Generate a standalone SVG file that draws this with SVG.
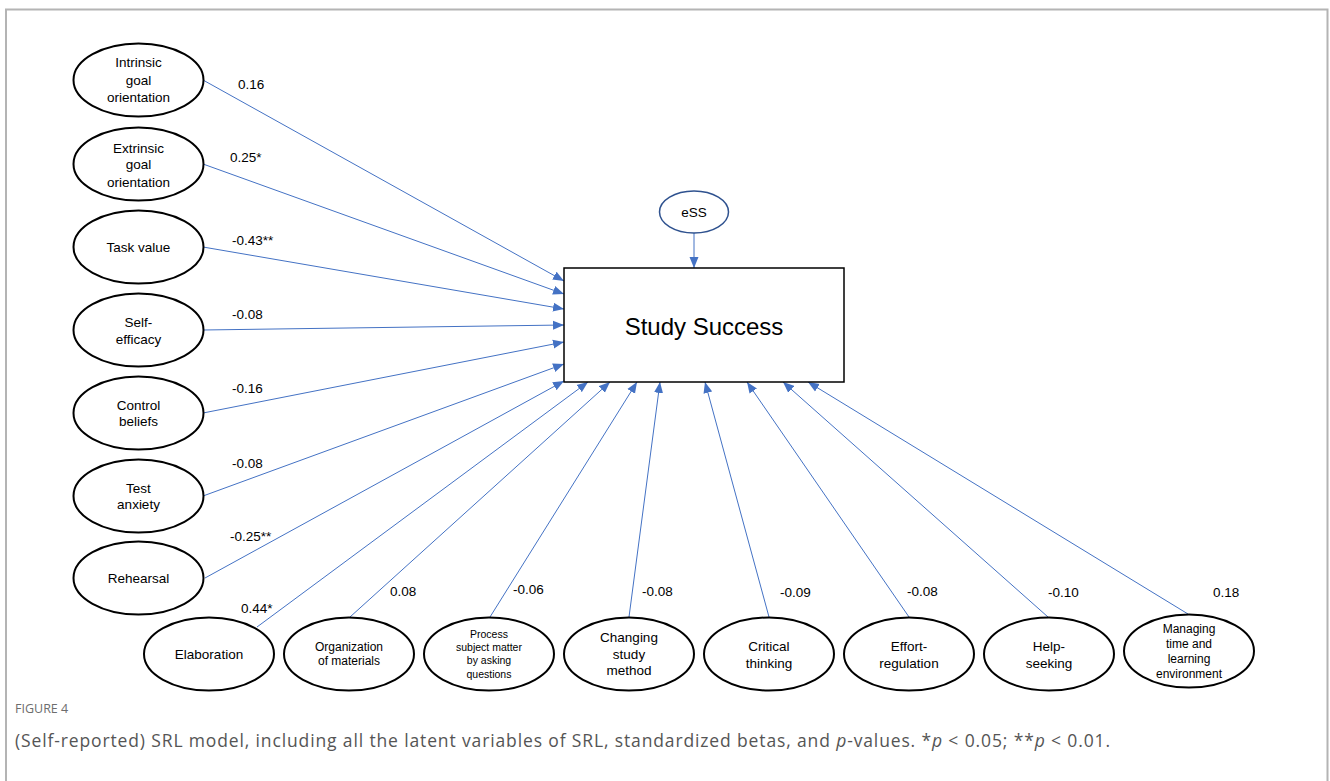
<svg xmlns="http://www.w3.org/2000/svg" width="1330" height="781" viewBox="0 0 1330 781">
<style>
.n ellipse{fill:#fff;stroke:#000;stroke-width:2}
.t{font-family:"Liberation Sans",Arial,sans-serif;font-size:13.5px;fill:#000;text-anchor:middle}
.s12{font-size:12px}
.s10{font-size:10.5px}
.lb{font-family:"Liberation Sans",Arial,sans-serif;font-size:13.5px;fill:#000}
.c line{stroke:#4472c4;stroke-width:1;marker-end:url(#ah)}
.cap{font-family:"Open Sans","Liberation Sans",sans-serif;fill:#555}
</style>
<defs>
<marker id="ah" markerUnits="userSpaceOnUse" markerWidth="12" markerHeight="10" refX="11" refY="4.5" orient="auto" viewBox="0 0 12 9">
<path d="M0,0 L11,4.5 L0,9 z" fill="#4472c4"/>
</marker>
</defs>
<rect x="0" y="0" width="1330" height="781" fill="#fff"/>
<path d="M6,790 V9.5 H1327.5 V790" fill="none" stroke="#b4b4b4" stroke-width="2"/>

<g id="connectors" class="c">
<line x1="203" y1="80" x2="564" y2="281"/>
<line x1="203" y1="164" x2="564" y2="294"/>
<line x1="203" y1="247" x2="564" y2="309"/>
<line x1="203" y1="330" x2="564" y2="325"/>
<line x1="203" y1="413" x2="564" y2="342"/>
<line x1="203" y1="496" x2="564" y2="364"/>
<line x1="205" y1="578" x2="564" y2="381"/>
<line x1="257" y1="627" x2="588" y2="382"/>
<line x1="350" y1="617" x2="610" y2="382"/>
<line x1="490" y1="617" x2="637" y2="382"/>
<line x1="629" y1="617" x2="660" y2="382"/>
<line x1="769" y1="617" x2="705" y2="382"/>
<line x1="909" y1="617" x2="747" y2="382"/>
<line x1="1048" y1="617" x2="783" y2="382"/>
<line x1="1188" y1="614" x2="808" y2="382"/>
<line x1="694" y1="233" x2="694" y2="268"/>
</g>

<g id="labels">
<text class="lb" x="238" y="89">0.16</text>
<text class="lb" x="230" y="162">0.25*</text>
<text class="lb" x="232" y="245">-0.43**</text>
<text class="lb" x="232" y="319">-0.08</text>
<text class="lb" x="232" y="393">-0.16</text>
<text class="lb" x="232" y="468">-0.08</text>
<text class="lb" x="230" y="541">-0.25**</text>
<text class="lb" x="241" y="613">0.44*</text>
<text class="lb" x="390" y="596">0.08</text>
<text class="lb" x="513" y="594">-0.06</text>
<text class="lb" x="642" y="596">-0.08</text>
<text class="lb" x="780" y="597">-0.09</text>
<text class="lb" x="907" y="596">-0.08</text>
<text class="lb" x="1048" y="597">-0.10</text>
<text class="lb" x="1213" y="597">0.18</text>
</g>

<g id="study-success">
<rect x="564" y="268" width="280" height="114" fill="#fff" stroke="#000" stroke-width="1.5"/>
<text class="t" x="704" y="335" style="font-size:24px">Study Success</text>
</g>
<g id="ess">
<ellipse cx="694" cy="212" rx="34.5" ry="21" fill="#fff" stroke="#2f528f" stroke-width="1.5"/>
<text class="t" x="694" y="217">eSS</text>
</g>

<g id="intrinsic" class="n"><ellipse cx="138.5" cy="80" rx="65" ry="36.5"/>
<text class="t" x="138.5" y="67">Intrinsic</text><text class="t" x="138.5" y="85">goal</text><text class="t" x="138.5" y="102">orientation</text></g>
<g id="extrinsic" class="n"><ellipse cx="138.5" cy="164" rx="65" ry="36.5"/>
<text class="t" x="138.5" y="153">Extrinsic</text><text class="t" x="138.5" y="169">goal</text><text class="t" x="138.5" y="187">orientation</text></g>
<g id="task-value" class="n"><ellipse cx="138.5" cy="247" rx="65" ry="36.5"/>
<text class="t" x="138.5" y="252">Task value</text></g>
<g id="self-efficacy" class="n"><ellipse cx="138.5" cy="330" rx="65" ry="36.5"/>
<text class="t" x="138.5" y="327">Self-</text><text class="t" x="138.5" y="344">efficacy</text></g>
<g id="control-beliefs" class="n"><ellipse cx="138.5" cy="413" rx="65" ry="36.5"/>
<text class="t" x="138.5" y="410">Control</text><text class="t" x="138.5" y="426">beliefs</text></g>
<g id="test-anxiety" class="n"><ellipse cx="138.5" cy="496" rx="65" ry="36.5"/>
<text class="t" x="138.5" y="493">Test</text><text class="t" x="138.5" y="509">anxiety</text></g>
<g id="rehearsal" class="n"><ellipse cx="138.5" cy="578" rx="65" ry="36.5"/>
<text class="t" x="138.5" y="583">Rehearsal</text></g>

<g id="elaboration" class="n"><ellipse cx="209" cy="654" rx="65" ry="36.5"/>
<text class="t" x="209" y="659">Elaboration</text></g>
<g id="organization" class="n"><ellipse cx="349" cy="654" rx="65" ry="36.5"/>
<text class="t s12" x="349" y="651">Organization</text><text class="t s12" x="349" y="665">of materials</text></g>
<g id="process" class="n"><ellipse cx="489" cy="654" rx="65" ry="36.5"/>
<text class="t s10" x="489" y="638">Process</text><text class="t s10" x="489" y="651">subject matter</text><text class="t s10" x="489" y="664">by asking</text><text class="t s10" x="489" y="678">questions</text></g>
<g id="changing" class="n"><ellipse cx="629" cy="654" rx="65" ry="36.5"/>
<text class="t" x="629" y="642">Changing</text><text class="t" x="629" y="659">study</text><text class="t" x="629" y="675">method</text></g>
<g id="critical" class="n"><ellipse cx="769" cy="654" rx="65" ry="36.5"/>
<text class="t" x="769" y="651">Critical</text><text class="t" x="769" y="668">thinking</text></g>
<g id="effort" class="n"><ellipse cx="909" cy="654" rx="65" ry="36.5"/>
<text class="t" x="909" y="651">Effort-</text><text class="t" x="909" y="668">regulation</text></g>
<g id="help" class="n"><ellipse cx="1049" cy="654" rx="65" ry="36.5"/>
<text class="t" x="1049" y="651">Help-</text><text class="t" x="1049" y="668">seeking</text></g>
<g id="managing" class="n"><ellipse cx="1189" cy="651" rx="65" ry="36.5"/>
<text class="t s12" x="1189" y="633">Managing</text><text class="t s12" x="1189" y="648">time and</text><text class="t s12" x="1189" y="663">learning</text><text class="t s12" x="1189" y="678">environment</text></g>

<g id="caption">
<text class="cap" x="15" y="713" style="font-size:12.5px;fill:#6d6d6d">FIGURE 4</text>
<text class="cap" x="15" y="747" style="font-size:17.5px" textLength="1095" lengthAdjust="spacing">(Self-reported) SRL model, including all the latent variables of SRL, standardized betas, and <tspan font-style="italic">p</tspan>-values. *<tspan font-style="italic">p</tspan> &lt; 0.05; **<tspan font-style="italic">p</tspan> &lt; 0.01.</text>
</g>
</svg>
